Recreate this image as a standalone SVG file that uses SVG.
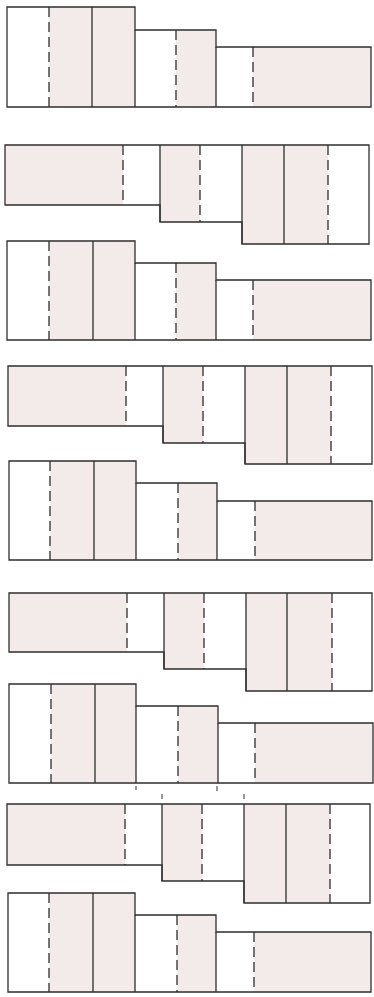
<svg xmlns="http://www.w3.org/2000/svg" width="374" height="997" viewBox="0 0 374 997">
<style>
.bg{fill:#ffffff}
.pk{fill:#f3eaea;stroke:none}
.ol{fill:none;stroke:#2e2e2e;stroke-width:1.3;stroke-linejoin:miter}
.sl{fill:none;stroke:#2e2e2e;stroke-width:1.3}
.dl{fill:none;stroke:#2e2e2e;stroke-width:1.3;stroke-dasharray:10 5}
.tk{fill:none;stroke:#444;stroke-width:1.1}
</style>
<rect class="bg" x="0" y="0" width="374" height="997"/>

<g id="strip1">
<rect class="pk" x="49" y="7" width="86" height="100"/>
<rect class="pk" x="176" y="30" width="40" height="77"/>
<rect class="pk" x="253" y="47" width="118" height="60"/>
<path class="ol" d="M7,107 V7 H135 V30 H216 V47 H371 V107 Z"/>
<path class="sl" d="M92,7 V107 M135,30 V107 M216,47 V107"/>
<path class="dl" d="M49,7 V107 M176,30 V107 M253,47 V107"/>
</g>

<g id="strip2">
<rect class="pk" x="5" y="145" width="118" height="60"/>
<rect class="pk" x="160" y="145" width="40" height="77"/>
<rect class="pk" x="242" y="145" width="86" height="99"/>
<path class="ol" d="M5,145 H369 V244 H242 V222 H160 V205 H5 Z"/>
<path class="sl" d="M160,145 V222 M242,145 V244 M284,145 V244"/>
<path class="dl" d="M123,145 V205 M200,145 V222 M328,145 V244"/>
</g>

<g id="strip3">
<rect class="pk" x="49" y="241" width="86" height="99"/>
<rect class="pk" x="176" y="263" width="40" height="77"/>
<rect class="pk" x="253" y="280" width="118" height="60"/>
<path class="ol" d="M7,340 V241 H135 V263 H216 V280 H371 V340 Z"/>
<path class="sl" d="M93,241 V340 M135,263 V340 M216,280 V340"/>
<path class="dl" d="M49,241 V340 M176,263 V340 M253,280 V340"/>
</g>

<g id="strip4">
<rect class="pk" x="8" y="366" width="118" height="60"/>
<rect class="pk" x="163" y="366" width="40" height="77"/>
<rect class="pk" x="245" y="366" width="86" height="98"/>
<path class="ol" d="M8,366 H372 V464 H245 V443 H163 V426 H8 Z"/>
<path class="sl" d="M163,366 V443 M245,366 V464 M287,366 V464"/>
<path class="dl" d="M126,366 V426 M203,366 V443 M331,366 V464"/>
</g>

<g id="strip5">
<rect class="pk" x="50" y="461" width="86" height="99"/>
<rect class="pk" x="178" y="483" width="39" height="77"/>
<rect class="pk" x="255" y="501" width="117" height="59"/>
<path class="ol" d="M9,560 V461 H136 V483 H217 V501 H372 V560 Z"/>
<path class="sl" d="M94,461 V560 M136,483 V560 M217,501 V560"/>
<path class="dl" d="M50,461 V560 M178,483 V560 M255,501 V560"/>
</g>

<g id="strip6">
<rect class="pk" x="9" y="593" width="118" height="59"/>
<rect class="pk" x="164" y="593" width="40" height="76"/>
<rect class="pk" x="246" y="593" width="86" height="98"/>
<path class="ol" d="M9,593 H372 V691 H246 V669 H164 V652 H9 Z"/>
<path class="sl" d="M164,593 V669 M246,593 V691 M287,593 V691"/>
<path class="dl" d="M127,593 V652 M204,593 V669 M332,593 V691"/>
</g>

<g id="strip7">
<rect class="pk" x="51" y="684" width="85" height="99"/>
<rect class="pk" x="178" y="706" width="40" height="77"/>
<rect class="pk" x="255" y="723" width="118" height="60"/>
<path class="ol" d="M9,783 V684 H136 V706 H218 V723 H373 V783 Z"/>
<path class="sl" d="M95,684 V783 M136,706 V783 M218,723 V783"/>
<path class="dl" d="M51,684 V783 M178,706 V783 M255,723 V783"/>
</g>

<g id="ticks">
<path class="tk" d="M136,786 V790 M217,786 V791 M162,794 V799 M244,794 V799"/>
</g>

<g id="strip8">
<rect class="pk" x="7" y="804" width="118" height="61"/>
<rect class="pk" x="162" y="804" width="40" height="77"/>
<rect class="pk" x="244" y="804" width="86" height="99"/>
<path class="ol" d="M7,804 H370 V903 H244 V881 H162 V865 H7 Z"/>
<path class="sl" d="M162,804 V881 M244,804 V903 M286,804 V903"/>
<path class="dl" d="M125,804 V865 M202,804 V881 M330,804 V903"/>
</g>

<g id="strip9">
<rect class="pk" x="49" y="893" width="86" height="99"/>
<rect class="pk" x="177" y="915" width="39" height="77"/>
<rect class="pk" x="254" y="932" width="117" height="60"/>
<path class="ol" d="M8,992 V893 H135 V915 H216 V932 H371 V992 Z"/>
<path class="sl" d="M93,893 V992 M135,915 V992 M216,932 V992"/>
<path class="dl" d="M49,893 V992 M177,915 V992 M254,932 V992"/>
</g>
</svg>
